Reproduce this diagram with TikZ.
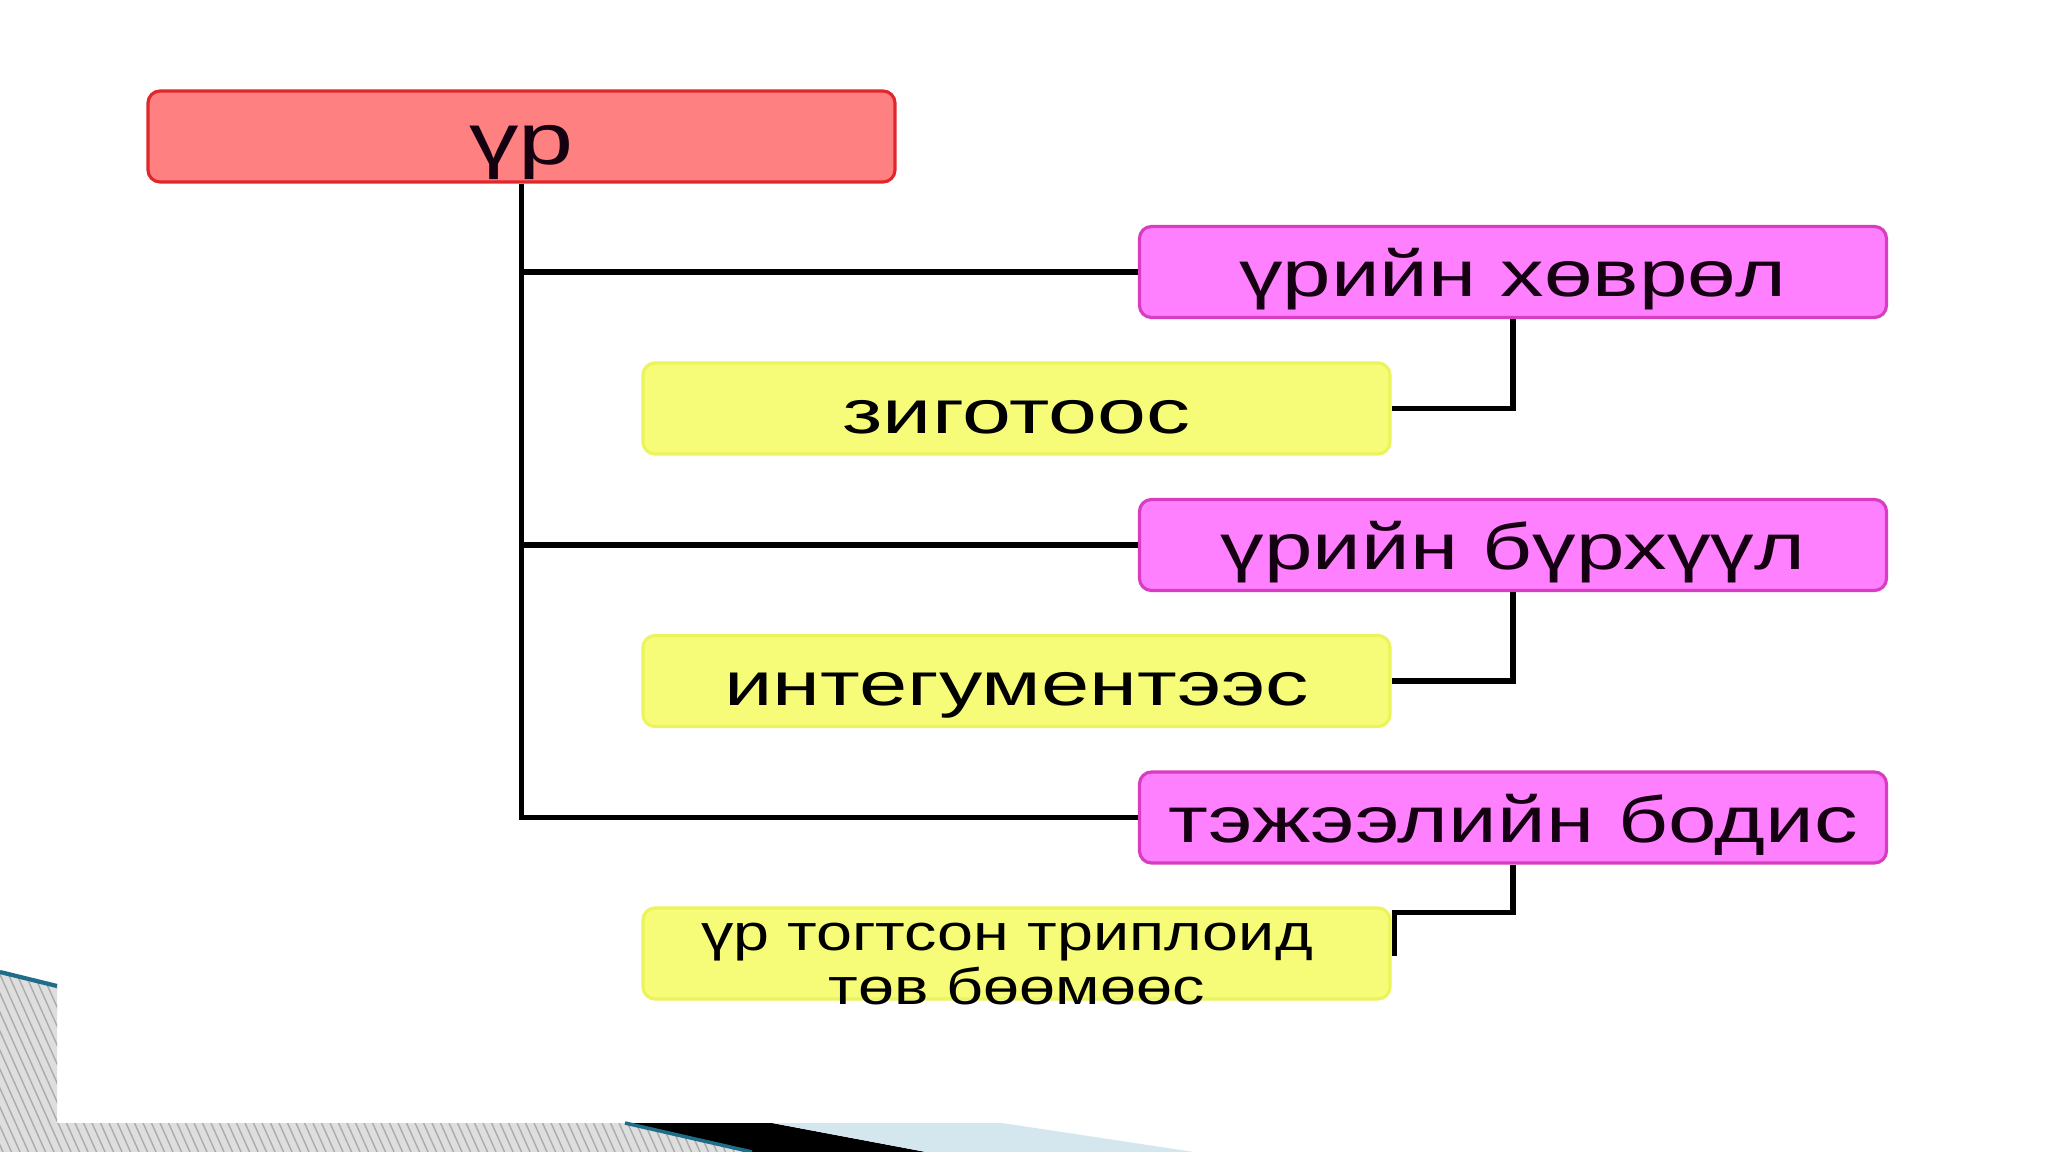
\documentclass[tikz,border=0pt]{standalone}
\usepackage{fontspec}
\usepackage{graphicx}
\setmainfont{Liberation Sans}
\definecolor{redfill}{HTML}{FF8080}
\definecolor{reddraw}{HTML}{E0282C}
\definecolor{magfill}{HTML}{FF80FF}
\definecolor{magdraw}{HTML}{D83CC0}
\definecolor{yelfill}{HTML}{F6FC78}
\definecolor{yeldraw}{HTML}{ECF45C}
\definecolor{hatchbg}{HTML}{DEDEDE}
\definecolor{hatchln}{HTML}{ABABAB}
\definecolor{decoteal}{HTML}{1E6E8A}
\definecolor{decoblue}{HTML}{D5E7EE}
\definecolor{txtdark}{HTML}{140010}
\newcommand{\hwide}[2]{\scalebox{#1}[1]{#2}}
\begin{document}
\begin{tikzpicture}[
  box/.style={rounded corners=0.12cm, line width=0.9pt, minimum width=7.47cm,
    minimum height=0.91cm, inner sep=0pt, text=txtdark,
    font=\fontsize{18.5}{22}\selectfont, text height=16pt, text depth=2pt},
  rbox/.style={box, fill=redfill, draw=reddraw, font=\fontsize{20.7}{24}\selectfont,
    text height=18pt, text depth=1.8pt},
  mbox/.style={box, fill=magfill, draw=magdraw},
  ybox/.style={box, fill=yelfill, draw=yeldraw, text=black, font=\fontsize{17.5}{21}\selectfont},
  smalltxt/.style={font=\fontsize{14.5}{17}\selectfont, inner sep=0pt, anchor=base},
  conn/.style={line width=1.6pt, black}
]
\useasboundingbox (0,0) rectangle (20.48,-11.52);
\fill[white] (0,0) rectangle (20.48,-11.52);

% bottom decoration
\begin{scope}
\clip (0,-9.72) -- (0.57,-9.86) -- (0.57,-11.23) -- (6.25,-11.23) -- (7.52,-11.52) -- (0,-11.52) -- cycle;
\fill[hatchbg] (0,-9.5) rectangle (8,-11.6);
\foreach \i in {0,...,110} \draw[hatchln, line width=0.4pt] ({-1+\i*0.085},-9.6) -- ++(0.86,-1.92);
\end{scope}
\draw[decoteal, line width=1.2pt] (0,-9.72) -- (0.57,-9.86);
\fill[black] (6.25,-11.23) -- (7.72,-11.23) -- (9.26,-11.52) -- (7.52,-11.52) -- cycle;
\draw[decoteal, line width=1pt] (6.25,-11.23) -- (7.52,-11.52);
\fill[decoblue] (7.72,-11.23) -- (10.02,-11.23) -- (11.94,-11.52) -- (9.26,-11.52) -- cycle;

% nodes
\node[rbox] (r) at (5.215,-1.365) {\hwide{1.36}{үр}};
\node[mbox] (m1) at (15.13,-2.72) {\hwide{1.34}{үрийн хөврөл}};
\node[mbox] (m2) at (15.13,-5.45) {\hwide{1.34}{үрийн бүрхүүл}};
\node[mbox] (m3) at (15.13,-8.175) {\hwide{1.34}{тэжээлийн бодис}};
\node[ybox] (y1) at (10.165,-4.085) {\hwide{1.43}{зиготоос}};
\node[ybox] (y2) at (10.165,-6.81) {\hwide{1.41}{интегументээс}};
\node[ybox] (y3) at (10.165,-9.535) {};
\node[smalltxt] (y3a) at (10.07,-9.50) {\hwide{1.27}{үр тогтсон триплоид}};
\node[smalltxt] (y3b) at (10.165,-10.04) {\hwide{1.27}{төв бөөмөөс}};

% connectors
\draw[conn] (r.south) |- (m3.west);
\draw[conn] (r.south |- m1.west) -- (m1.west);
\draw[conn] (r.south |- m2.west) -- (m2.west);
\draw[conn] (m1.south) |- (y1.east);
\draw[conn] (m2.south) |- (y2.east);
\draw[conn] (m3.south) -- ++(0,-0.48) -| ([xshift=0.03cm,yshift=-0.02cm]y3.east);
\end{tikzpicture}
\end{document}
